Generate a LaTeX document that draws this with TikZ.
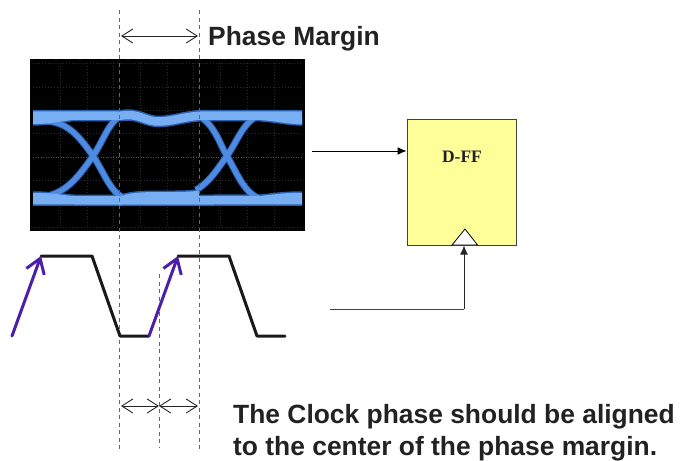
\documentclass[tikz,border=0pt]{standalone}
\usepackage{fontspec}
\setmainfont{Liberation Sans}
\newfontfamily\serifbf{Liberation Serif}
\usetikzlibrary{arrows.meta}
\definecolor{eyeA}{HTML}{2A5FB0}
\definecolor{eyeB}{HTML}{4F8BE0}
\definecolor{eyeC}{HTML}{78AEF2}
\definecolor{clockP}{HTML}{4B1FA8}
\definecolor{ffFill}{HTML}{FFFF99}
\definecolor{txt}{HTML}{222222}
\tikzset{
  x=1pt,y=-1pt,
  guide/.style={draw=black!60,line width=0.9pt,dash pattern=on 4pt off 3.5pt},
  span/.style={draw=black!85,line width=0.9pt,{Straight Barb[length=11pt,width=14pt,line width=0.9pt]}-{Straight Barb[length=11pt,width=14pt,line width=0.9pt]}},
  wave/.style={draw=black!90,line width=3pt,line cap=round,line join=round},
  rise/.style={draw=clockP,line width=3pt,line cap=round,-{Straight Barb[length=14pt,width=19pt,line width=3pt]}},
  wire/.style={draw=black,line width=1pt},
  wiretip/.style={wire,-{Latex[length=9pt,width=8pt]}},
  big/.style={font=\bfseries\fontsize{26.4}{30}\selectfont,text=txt,inner sep=0pt,anchor=base west},
  grat/.style={draw=white!17!black,line width=0.6pt,dash pattern=on 1pt off 2pt},
}
\begin{document}
\begin{tikzpicture}
\useasboundingbox (0,0) rectangle (681,461);
% scope screen
\fill[black] (30,59) rectangle (305,231);
\foreach \gx in {60,87,113,140,167,193,220,247,274} \draw[grat] (\gx,63)--(\gx,227);
\foreach \gy in {63,87,110,133,180,203,227} \draw[grat] (33,\gy)--(302,\gy);
\draw[draw=white!35!black,line width=0.8pt,dash pattern=on 1pt off 1.5pt] (33,157)--(302,157);
\begin{scope}
\clip (33,59) rectangle (302,231);
\def\traces{
  (30,122) .. controls (62,117) and (75,130) .. (93,156) .. controls (104,172) and (110,192) .. (124,198)
  (30,198) .. controls (62,198) and (75,182) .. (93,156) .. controls (104,140) and (110,118) .. (124,115)
  (199,116) .. controls (215,125) and (220,145) .. (227,156) .. controls (238,175) and (245,195) .. (262,199)
  (196,190) .. controls (210,182) and (218,168) .. (227,156) .. controls (238,140) and (245,118) .. (262,115) .. controls (278,113) and (282,122) .. (305,122)
}
\def\rails{
  (30,115.5)--(122,115.5) .. controls (140,113) and (145,122) .. (160,121.5) .. controls (175,121) and (185,116) .. (205,115.5)--(305,115.5)
  (30,200)--(120,200.5)--(305,200)
  (30,120) .. controls (45,120) and (55,118) .. (70,116)
  (262,116) .. controls (280,117) and (285,120) .. (305,120)
  (30,197) .. controls (45,197) and (55,198) .. (70,200)
  (262,200) .. controls (280,198) and (285,197) .. (305,197)
  (125,199) .. controls (145,194) and (175,198) .. (199,195)
}
\draw[eyeA,line width=7pt] \traces;
\draw[eyeA,line width=11.5pt] \rails;
\draw[eyeB,line width=5pt] \traces;
\draw[eyeC,line width=8.5pt] \rails;
\end{scope}
% guides
\coordinate (gAt) at (119.5,10); \coordinate (gAb) at (119.5,451);
\coordinate (gBt) at (199,10);   \coordinate (gBb) at (199,451);
\coordinate (gCt) at (159,274);  \coordinate (gCb) at (159,448);
\draw[guide] (gAt)--(gAb);
\draw[guide] (gBt)--(gBb);
\draw[guide] (gCt)--(gCb);
% spans
\coordinate (sAl) at (121,36); \coordinate (sAr) at (198,36);
\draw[span] (sAl)--(sAr);
\coordinate (sBl) at (121,406); \coordinate (sBm) at (159,406); \coordinate (sBr) at (198,406);
\draw[span] (sBl)--(sBm);
\draw[span] (sBm)--(sBr);
\node[big] (pm) at (208,45) {Phase Margin};
\node[big] (note1) at (233,423) {The Clock phase should be aligned};
\node[big] (note2) at (233,455) {to the center of the phase margin.};
% clock waveform
\coordinate (r1a) at (12,336); \coordinate (r1b) at (41,256);
\coordinate (r2a) at (149,336); \coordinate (r2b) at (178,256);
\draw[wave] (r1b)--(92,256)--(120,336)--(r2a);
\draw[wave] (r2b)--(229,256)--(257,336)--(285,336);
\draw[rise] (r1a)--(r1b);
\draw[rise] (r2a)--(r2b);
% flip-flop
\node[draw=black!75,line width=0.9pt,fill=ffFill,minimum width=109.5pt,minimum height=126pt,inner sep=0pt,anchor=north west] (ff) at (406.5,119) {};
\node[font=\serifbf\bfseries\fontsize{17.5}{20}\selectfont,text=txt,inner sep=0pt] (ffl) at (462,157) {D-FF};
\draw[black,line width=0.8pt,fill=white] (452,245)--(465,229)--(477.5,245)--cycle;
\coordinate (din) at (312,151);
\draw[wiretip] (din)--(ff.west |- din);
\coordinate (ck0) at (330,309); \coordinate (ck1) at (464,309); \coordinate (ck2) at (464,245.5);
\draw[wire,draw=black!75] (ck0)--(ck1);
\draw[wiretip,draw=black!85] (ck1)--(ck2);
\end{tikzpicture}
\end{document}
